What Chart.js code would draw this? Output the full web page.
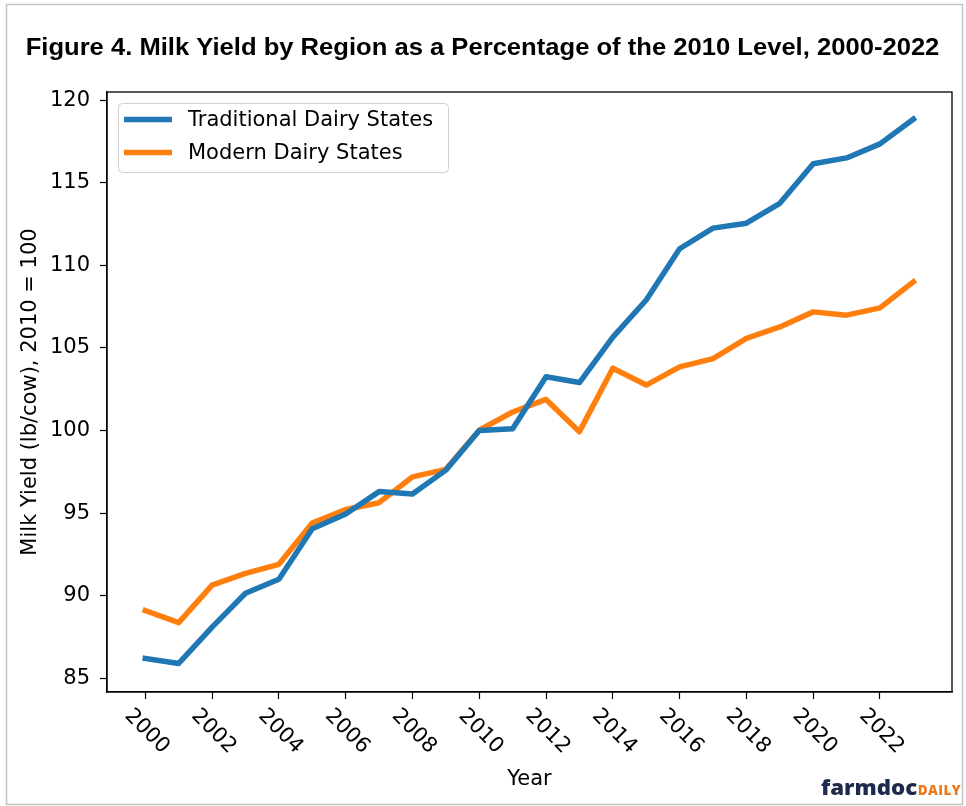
<!DOCTYPE html>
<html>
<head>
<meta charset="utf-8">
<script src="https://cdn.jsdelivr.net/npm/chart.js@4.4.0/dist/chart.umd.min.js"></script>
<style>
  html, body { margin: 0; padding: 0; background: #ffffff; }
  canvas { display: block; }
</style>
</head>
<body>
<canvas id="c" width="966" height="806"></canvas>
<script>
// ---- data ----
const years = [2000, 2001, 2002, 2003, 2004, 2005, 2006, 2007, 2008, 2009, 2010, 2011,
               2012, 2013, 2014, 2015, 2016, 2017, 2018, 2019, 2020, 2021, 2022, 2023];
const traditional = [86.2, 85.9, 88.1, 90.15, 91.0, 94.05, 94.95, 96.3, 96.15, 97.6, 100.0, 100.1,
                     103.25, 102.9, 105.65, 107.9, 111.0, 112.25, 112.55, 113.75, 116.15, 116.5, 117.35, 118.85];
const modern = [89.1, 88.37, 90.64, 91.35, 91.9, 94.4, 95.22, 95.63, 97.19, 97.65, 100.02, 101.12,
                101.88, 99.93, 103.77, 102.75, 103.85, 104.35, 105.58, 106.27, 107.18, 106.98, 107.42, 109.0];
const seriesNames = ['Traditional Dairy States', 'Modern Dairy States'];
const xTickLabels = [2000, 2002, 2004, 2006, 2008, 2010, 2012, 2014, 2016, 2018, 2020, 2022];
const yTickLabels = [85, 90, 95, 100, 105, 110, 115, 120];
const titleText = 'Figure 4. Milk Yield by Region as a Percentage of the 2010 Level, 2000-2022';
const xTitle = 'Year';
const yTitle = 'Milk Yield (lb/cow), 2010 = 100';

const FONT = '"DejaVu Sans", sans-serif';

const decor = {
  id: 'decor',
  beforeDraw(chart) {
    const ctx = chart.ctx;
    ctx.save();
    ctx.fillStyle = '#ffffff';
    ctx.fillRect(0, 0, chart.width, chart.height);
    ctx.strokeStyle = '#c4c4c4';
    ctx.lineWidth = 1.5;
    ctx.strokeRect(6.5, 4.5, 956, 800);
    ctx.restore();
  },
  afterDraw(chart) {
    const ctx = chart.ctx;
    const a = chart.chartArea;
    const xs = chart.scales.x;
    ctx.save();
    // plot frame
    ctx.strokeStyle = '#000';
    ctx.lineWidth = 1.3;
    ctx.strokeRect(a.left, a.top, a.right - a.left, a.bottom - a.top);

    // x tick labels rotated -45 (clockwise)
    ctx.fillStyle = '#000';
    ctx.font = '21px ' + FONT;
    ctx.textAlign = 'center';
    ctx.textBaseline = 'middle';
    xTickLabels.forEach(v => {
      const px = xs.getPixelForValue(v);
      ctx.save();
      ctx.translate(px + 1.5, a.bottom + 39.5);
      ctx.rotate(Math.PI / 4);
      ctx.fillText(String(v), 0, 0);
      ctx.restore();
    });

    // axis titles
    ctx.fillText(xTitle, (a.left + a.right) / 2, 780);
    ctx.save();
    ctx.translate(31, (a.top + a.bottom) / 2);
    ctx.rotate(-Math.PI / 2);
    ctx.fillText(yTitle, 0, 0);
    ctx.restore();

    // legend
    const lx = 118.5, ly = 103.5, lw = 330, lh = 69, r = 4;
    ctx.beginPath();
    ctx.moveTo(lx + r, ly);
    ctx.arcTo(lx + lw, ly, lx + lw, ly + lh, r);
    ctx.arcTo(lx + lw, ly + lh, lx, ly + lh, r);
    ctx.arcTo(lx, ly + lh, lx, ly, r);
    ctx.arcTo(lx, ly, lx + lw, ly, r);
    ctx.closePath();
    ctx.fillStyle = 'rgba(255,255,255,0.8)';
    ctx.fill();
    ctx.strokeStyle = '#d0d0d0';
    ctx.lineWidth = 1;
    ctx.stroke();
    chart.data.datasets.forEach((ds, i) => {
      const yy = 119.5 + i * 33;
      ctx.beginPath();
      ctx.moveTo(124, yy);
      ctx.lineTo(172, yy);
      ctx.strokeStyle = ds.borderColor;
      ctx.lineWidth = 5.5;
      ctx.lineCap = 'butt';
      ctx.stroke();
      ctx.fillStyle = '#000';
      ctx.textAlign = 'left';
      ctx.textBaseline = 'middle';
      ctx.font = '21px ' + FONT;
      ctx.fillText(ds.label, 188, yy + 1);
    });

    // title (fit width, stretch to the reference glyph height)
    ctx.font = 'bold 20px "Liberation Sans", Arial, sans-serif';
    const w = ctx.measureText(titleText).width;
    const fs = 20 * 914 / w;
    ctx.font = 'bold ' + fs.toFixed(2) + 'px "Liberation Sans", Arial, sans-serif';
    const sy = 16.7 / (0.716 * fs);
    ctx.fillStyle = '#000';
    ctx.textAlign = 'center';
    ctx.textBaseline = 'alphabetic';
    ctx.save();
    ctx.translate(482.5, 55);
    ctx.scale(1, sy);
    ctx.fillText(titleText, 0, 0);
    ctx.restore();

    // watermark
    ctx.textAlign = 'left';
    ctx.font = '800 21px "Open Sans", "Noto Sans", sans-serif';
    ctx.fillStyle = '#1e2a4d';
    ctx.save();
    ctx.translate(821, 794.5);
    ctx.scale(1.06, 1);
    ctx.fillText('farmdoc', 0, 0);
    const fw = ctx.measureText('farmdoc').width * 1.06;
    ctx.restore();
    ctx.font = '800 13.5px "Open Sans", "Noto Sans", sans-serif';
    ctx.fillStyle = '#ea7a1e';
    try { ctx.letterSpacing = '0.4px'; } catch (e) {}
    ctx.fillText('DAILY', 821 + fw + 0.5, 794.5);
    try { ctx.letterSpacing = '0px'; } catch (e) {}
    ctx.restore();
  }
};

const chart = new Chart(document.getElementById('c'), {
  type: 'line',
  data: {
    datasets: [
      {
        label: seriesNames[0],
        data: years.map((y, i) => ({ x: y, y: traditional[i] })),
        borderColor: '#1f77b4',
        backgroundColor: '#1f77b4',
        borderWidth: 5.5,
        pointRadius: 0,
        tension: 0,
        borderJoinStyle: 'round',
        borderCapStyle: 'square'
      },
      {
        label: seriesNames[1],
        data: years.map((y, i) => ({ x: y, y: modern[i] })),
        borderColor: '#ff7f0e',
        backgroundColor: '#ff7f0e',
        borderWidth: 5.5,
        pointRadius: 0,
        tension: 0,
        borderJoinStyle: 'round',
        borderCapStyle: 'square'
      }
    ]
  },
  options: {
    responsive: false,
    devicePixelRatio: 1,
    animation: false,
    layout: { padding: { top: 92, right: 14, left: 0, bottom: 0 } },
    plugins: {
      legend: { display: false },
      title: { display: false },
      tooltip: { enabled: false }
    },
    scales: {
      x: {
        type: 'linear',
        min: 1998.853,
        max: 2024.156,
        afterBuildTicks: s => { s.ticks = xTickLabels.map(v => ({ value: v })); },
        afterFit: s => { s.height = 114; },
        ticks: { display: false },
        grid: { display: true, drawOnChartArea: false, drawTicks: true, tickLength: 7, tickColor: '#000', tickWidth: 1.2 },
        border: { display: true, color: '#000', width: 1.3 }
      },
      y: {
        type: 'linear',
        min: 84.17,
        max: 120.49,
        afterBuildTicks: s => { s.ticks = yTickLabels.map(v => ({ value: v })); },
        afterFit: s => { s.width = 107; },
        ticks: { color: '#000', font: { family: 'DejaVu Sans', size: 21 }, padding: 10, callback: v => String(v) },
        grid: { display: true, drawOnChartArea: false, drawTicks: true, tickLength: 7, tickColor: '#000', tickWidth: 1.2 },
        border: { display: true, color: '#000', width: 1.3 }
      }
    }
  },
  plugins: [decor]
});
</script>
</body>
</html>
